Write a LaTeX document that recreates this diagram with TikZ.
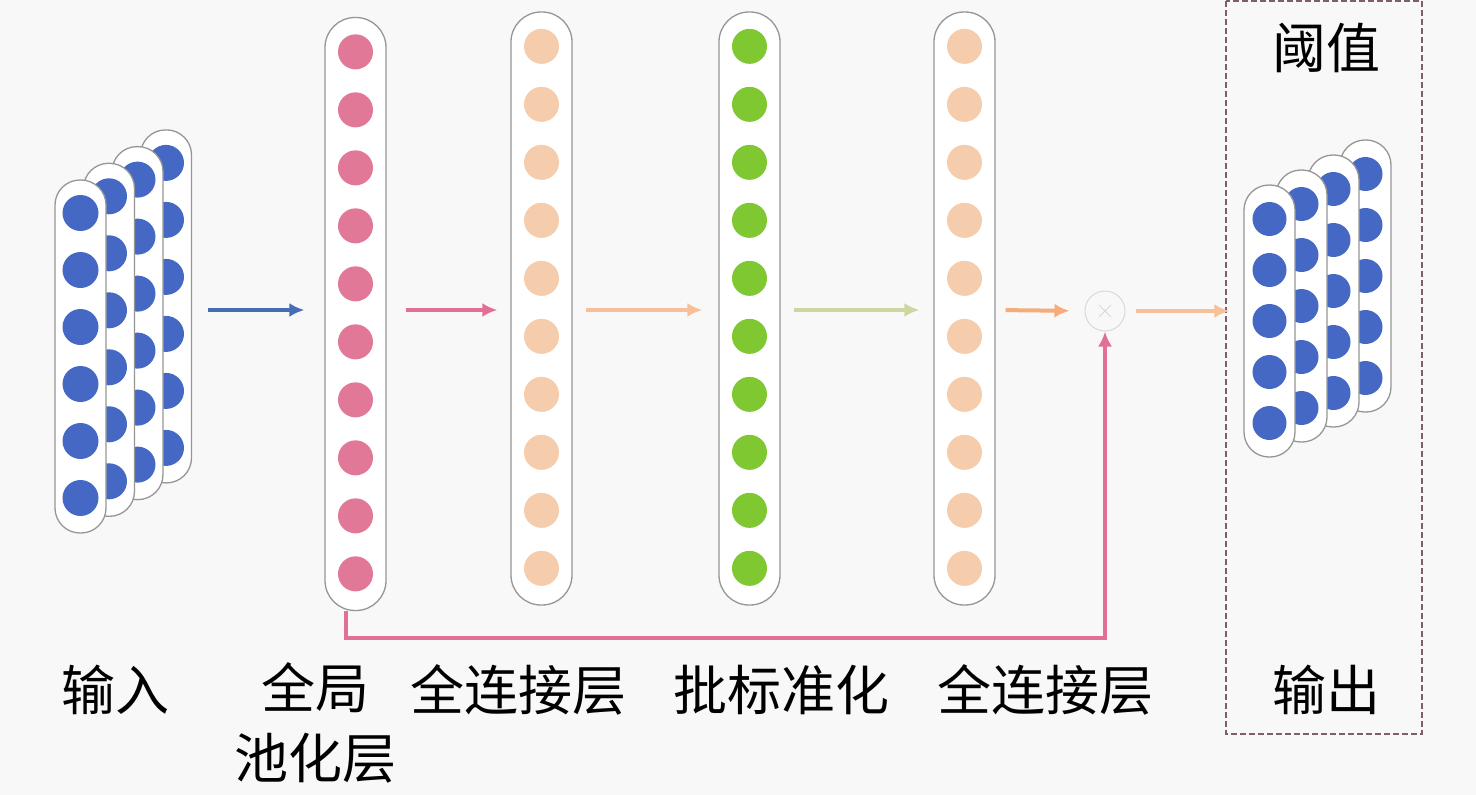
\documentclass[tikz,border=0pt]{standalone}
\usepackage{fontspec}
\newfontfamily\cjk{Noto Sans CJK SC}
\usetikzlibrary{arrows, arrows.meta, positioning, calc}

\definecolor{bgcol}{RGB}{248,248,248}
\definecolor{pillgray}{RGB}{150,150,150}
\definecolor{bluedot}{RGB}{68,104,196}
\definecolor{pinkdot}{RGB}{226,120,152}
\definecolor{peachdot}{RGB}{245,205,172}
\definecolor{greendot}{RGB}{128,200,50}
\definecolor{bluearr}{RGB}{70,110,180}
\definecolor{pinkarr}{RGB}{225,112,148}
\definecolor{peacharr}{RGB}{246,192,152}
\definecolor{olivearr}{RGB}{205,214,160}
\definecolor{orangearr}{RGB}{245,172,122}
\definecolor{boxcol}{RGB}{125,95,105}

\tikzset{
  col/.style={draw=pillgray, line width=1.3pt, fill=white, rounded corners=30pt,
    minimum width=61pt, minimum height=593pt, inner sep=0pt},
  stackpill/.style={draw=pillgray, line width=1.3pt, fill=white, rounded corners=25pt,
    minimum width=51pt, inner sep=0pt},
  dot/.style={circle, inner sep=0pt, minimum size=35pt},
  lbl/.style={font=\cjk\fontsize{54}{70}\selectfont, align=center, inner sep=0pt},
  flow/.style={-{Latex[length=15pt,width=14pt]}, line width=4pt},
}

\begin{document}
\begin{tikzpicture}[x=1pt, y=-1pt]
  % Background
  \fill[bgcol] (0,0) rectangle (1476,795);
  \useasboundingbox (0,0) rectangle (1476,795);
  \coordinate (row) at (0,310);

  % Input feature maps
  \foreach \k in {3,2,1,0} {
    \node[stackpill, minimum height=353pt] (in\k) at (80.5+28.5*\k, 356.5-16.7*\k) {};
    \foreach \j in {0,...,5}
      \node[dot, minimum size=36pt, fill=bluedot] at ($(in\k.center)+(0,-143.5+57*\j)$) {};
  }

  % Global pooling, FC, BN, FC columns
  \node[col] (pool) at (355.5,314) {};
  \node[col] (fc1) at (541.5,308.5) {};
  \node[col] (bn) at (749.5,308.5) {};
  \node[col] (fc2) at (964.5,308.5) {};
  \foreach \i in {0,...,9} {
    \node[dot, fill=pinkdot] at ($(pool.north)+(0,35+58*\i)$) {};
    \node[dot, fill=peachdot] at ($(fc1.north)+(0,35+58*\i)$) {};
    \node[dot, fill=greendot] at ($(bn.north)+(0,35+58*\i)$) {};
    \node[dot, fill=peachdot] at ($(fc2.north)+(0,35+58*\i)$) {};
  }

  % Multiplication
  \node[circle, draw=gray!30, line width=1pt, minimum size=40pt, inner sep=0pt] (mult) at (1105,311) {};
  \draw[gray!30, line width=1pt] ($(mult.center)+(-6,-6)$) -- ($(mult.center)+(6,6)$)
    ($(mult.center)+(-6,6)$) -- ($(mult.center)+(6,-6)$);

  % Output feature maps
  \foreach \k in {3,2,1,0} {
    \node[stackpill, minimum height=272pt] (out\k) at (1269.5+32*\k, 321-15*\k) {};
    \foreach \j in {0,...,4}
      \node[dot, minimum size=34pt, fill=bluedot] at ($(out\k.center)+(0,-102+51*\j)$) {};
  }

  % Threshold box
  \draw[boxcol, line width=1.2pt, dash pattern=on 6pt off 3pt] (1226,1) rectangle (1422,734);

  % Arrows
  \draw[flow, bluearr, shorten <=16pt, shorten >=20pt] (in3.east |- row) -- (pool.west |- row);
  \draw[flow, pinkarr, shorten <=19pt, shorten >=13pt] (pool.east |- row) -- (fc1.west |- row);
  \draw[flow, peacharr, shorten <=13pt, shorten >=16pt] (fc1.east |- row) -- (bn.west |- row);
  \draw[flow, olivearr, shorten <=13pt, shorten >=14pt] (bn.east |- row) -- (fc2.west |- row);
  \draw[flow, orangearr, shorten <=10pt, shorten >=15pt] (fc2.east |- row) -- (mult.west);
  \draw[flow, peacharr, shorten <=10pt, shorten >=14pt] (mult.east) -- (out0.west |- mult);
  \draw[flow, pinkarr] ([xshift=-10pt]pool.south) -- ++(0,27) -| (mult.south);

  % Labels
  \node[lbl] (lin) at (115,690) {输入};
  \node[lbl, anchor=north] (lpool) at (315,662) {全局\\池化层};
  \node[lbl] (lfc1) at (518,690) {全连接层};
  \node[lbl] (lbn) at (781,690) {批标准化};
  \node[lbl] (lfc2) at (1045,690) {全连接层};
  \node[lbl] (lout) at (1326,690) {输出};
  \node[lbl] (lthr) at (1326,48) {阈值};
\end{tikzpicture}
\end{document}
